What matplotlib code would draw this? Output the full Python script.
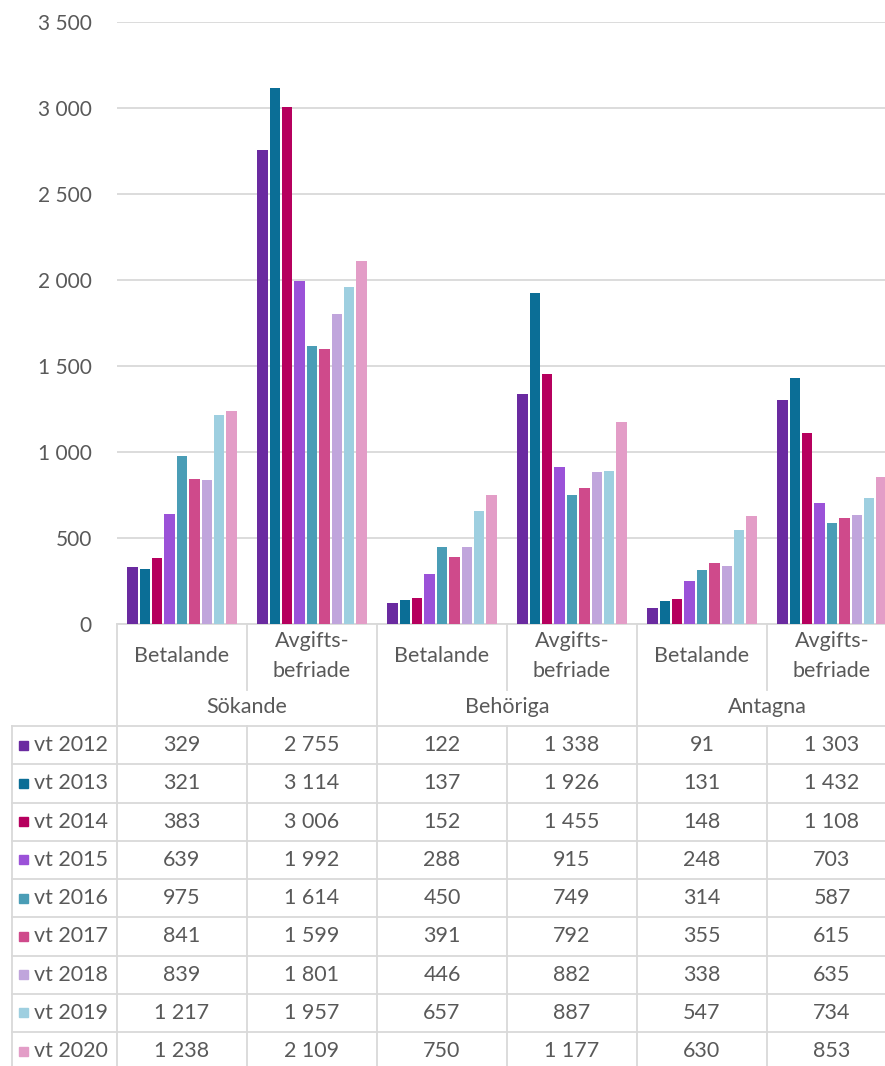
import matplotlib
matplotlib.use('Agg')
import matplotlib.pyplot as plt
from matplotlib.lines import Line2D
from matplotlib.patches import Rectangle
import numpy as np

# Data
years = ['vt 2012', 'vt 2013', 'vt 2014', 'vt 2015', 'vt 2016', 'vt 2017', 'vt 2018', 'vt 2019', 'vt 2020']
grupper = ['Sökande', 'Behöriga', 'Antagna']
undergrupper = ['Betalande', 'Avgifts-\nbefriade']
sokande_bet = [329, 321, 383, 639, 975, 841, 839, 1217, 1238]
sokande_avg = [2755, 3114, 3006, 1992, 1614, 1599, 1801, 1957, 2109]
behoriga_bet = [122, 137, 152, 288, 450, 391, 446, 657, 750]
behoriga_avg = [1338, 1926, 1455, 915, 749, 792, 882, 887, 1177]
antagna_bet = [91, 131, 148, 248, 314, 355, 338, 547, 630]
antagna_avg = [1303, 1432, 1108, 703, 587, 615, 635, 734, 853]
y_ticks = [0, 500, 1000, 1500, 2000, 2500, 3000, 3500]

kolumner = [sokande_bet, sokande_avg, behoriga_bet, behoriga_avg, antagna_bet, antagna_avg]
farger = ['#6a2aa0', '#0b6e96', '#b6005e', '#9b52d8', '#4a9db6', '#cf4a8b', '#c0a5dc', '#9ecfe0', '#e39dc7']

W, H = 885, 1066
grid_c = '#d9d9d9'
txt_c = '#595959'
fs = 15.5
plt.rcParams['font.family'] = ['Lato', 'DejaVu Sans']


def fx(px):
    return px / W


def fy(py):
    return 1 - py / H


def fmt(v):
    return f'{v:,}'.replace(',', ' ')


fig = plt.figure(figsize=(W / 100, H / 100), dpi=100)
ax = fig.add_axes([fx(117), fy(624), fx(897) - fx(117), fy(22) - fy(624)])

n = len(years)
slot = 12.4 / 130
bredd = 10.3 / 130
for i in range(n):
    xs = np.arange(len(kolumner)) + 0.5 + (i - (n - 1) / 2) * slot
    ax.bar(xs, [k[i] for k in kolumner], width=bredd, color=farger[i], zorder=3)

ax.set_xlim(0, 6)
ax.set_ylim(0, 3500)
ax.set_yticks(y_ticks)
ax.set_yticklabels([fmt(t) for t in y_ticks])
ax.set_xticks([])
ax.tick_params(axis='y', length=0, pad=18, labelsize=15, labelcolor=txt_c)
ax.grid(axis='y', color=grid_c, linewidth=1.3, zorder=0)
for s in ['top', 'right', 'left']:
    ax.spines[s].set_visible(False)
ax.spines['bottom'].set_color(grid_c)
ax.spines['bottom'].set_linewidth(1.3)


def linje(x0, y0, x1, y1):
    fig.add_artist(Line2D([fx(x0), fx(x1)], [fy(y0), fy(y1)], color=grid_c, lw=1.3,
                          transform=fig.transFigure))


# Tabell
rad_topp = 726
rad_h = 38.25
kol_x = [117 + 130 * k for k in range(7)]
for k in [0, 2, 4]:
    linje(kol_x[k], 624, kol_x[k], 1080)
for k in [1, 3, 5]:
    linje(kol_x[k], 624, kol_x[k], 690)
    linje(kol_x[k], rad_topp, kol_x[k], 1080)
linje(12, rad_topp, 12, 1080)
for r in range(n + 1):
    y = rad_topp + r * rad_h
    linje(12, y, 897, y)

for k in range(6):
    cx = (kol_x[k] + kol_x[k + 1]) / 2
    fig.text(fx(cx), fy(656), undergrupper[k % 2], ha='center', va='center',
             fontsize=fs, color=txt_c, linespacing=1.65)
for g in range(3):
    cx = kol_x[2 * g + 1]
    fig.text(fx(cx), fy(707), grupper[g], ha='center', va='center', fontsize=fs, color=txt_c)

for i in range(n):
    cy = rad_topp + (i + 0.5) * rad_h
    fig.add_artist(Rectangle((fx(19), fy(cy + 4.5)), fx(9), 9 / H, color=farger[i],
                             transform=fig.transFigure))
    fig.text(fx(34), fy(cy), years[i], ha='left', va='center', fontsize=fs, color=txt_c)
    for k in range(6):
        cx = (kol_x[k] + kol_x[k + 1]) / 2
        fig.text(fx(cx), fy(cy), fmt(kolumner[k][i]), ha='center', va='center',
                 fontsize=fs, color=txt_c)

fig.savefig('out.png', dpi=100)
